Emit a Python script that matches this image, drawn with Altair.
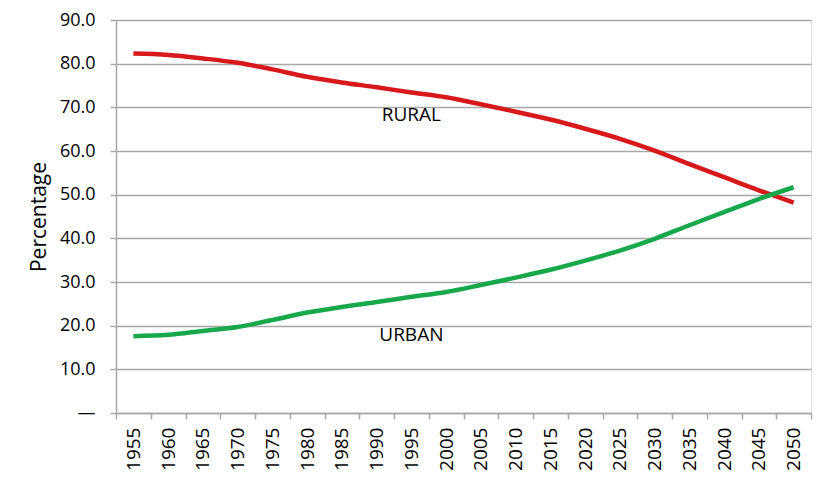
import altair as alt
import pandas as pd

years = [1955, 1960, 1965, 1970, 1975, 1980, 1985, 1990, 1995, 2000,
         2005, 2010, 2015, 2020, 2025, 2030, 2035, 2040, 2045, 2050]
rural = [82.3, 82.0, 81.2, 80.2, 78.7, 77.0, 75.7, 74.6, 73.4, 72.3,
         70.7, 69.0, 67.2, 65.1, 62.8, 60.1, 57.0, 54.0, 51.0, 48.2]
urban = [17.6, 17.9, 18.8, 19.7, 21.3, 23.0, 24.3, 25.4, 26.6, 27.7,
         29.3, 31.0, 32.8, 34.9, 37.2, 39.9, 43.0, 46.0, 49.0, 51.7]
series_names = ["RURAL", "URBAN"]
series_colors = ["#d7191c", "#18a84c"]
label_text = ["RURAL", "URBAN"]
label_year = [1995, 1995]
label_value = [68.3, 17.8]

rows = []
for name, vals in zip(series_names, [rural, urban]):
    for y, v in zip(years, vals):
        rows.append({"year": str(y), "value": v, "series": name})
df = pd.DataFrame(rows)
labels = pd.DataFrame({"year": [str(y) for y in label_year], "value": label_value, "text": label_text})

FONT = "Open Sans"
grid = "#a8a8a8"

xscale = alt.Scale(type="band", domain=[str(y) for y in years], paddingInner=0, paddingOuter=0)
yscale = alt.Scale(domain=[0, 90], nice=False)

x_enc = alt.X("year:N", scale=xscale, bandPosition=0.5,
              axis=alt.Axis(title=None, labelAngle=-90, tickBand="extent",
                            labelFontSize=19, labelFont=FONT, labelColor="#000000",
                            labelPadding=8, labelBaseline="middle", labelAlign="right",
                            domainColor=grid, tickColor=grid, tickSize=6,
                            domainWidth=1.5, tickWidth=1.5, grid=False))
y_enc = alt.Y("value:Q", scale=yscale,
              axis=alt.Axis(title="Percentage", values=list(range(0, 91, 10)),
                            labelExpr="datum.value == 0 ? '—' : format(datum.value, '.1f')",
                            labelFontSize=18, labelFont=FONT, labelColor="#000000",
                            labelPadding=15, titleFontSize=21, titleFont=FONT,
                            titleFontWeight="normal", titleColor="#000000", titlePadding=10,
                            domainColor=grid, tickColor=grid, tickSize=6, domainWidth=1.5,
                            tickWidth=1.5, gridColor=grid, gridWidth=1.5))

lines = alt.Chart(df).mark_line(strokeWidth=4.5, interpolate="monotone").encode(
    x=x_enc, y=y_enc,
    color=alt.Color("series:N", scale=alt.Scale(domain=series_names, range=series_colors), legend=None),
)

texts = alt.Chart(labels).mark_text(fontSize=19, font=FONT, color="#000000").encode(
    x=alt.X("year:N", scale=xscale, bandPosition=0.5),
    y=alt.Y("value:Q", scale=yscale),
    text="text:N",
)

chart = alt.layer(lines, texts).properties(
    width=695, height=393,
    autosize=alt.AutoSizeParams(type="none"),
    padding={"left": 108, "top": 12, "right": 10, "bottom": 60},
).configure_view(stroke=None).configure(background="#ffffff")

chart.save("out.html", embed_options={"renderer": "svg", "actions": False})
